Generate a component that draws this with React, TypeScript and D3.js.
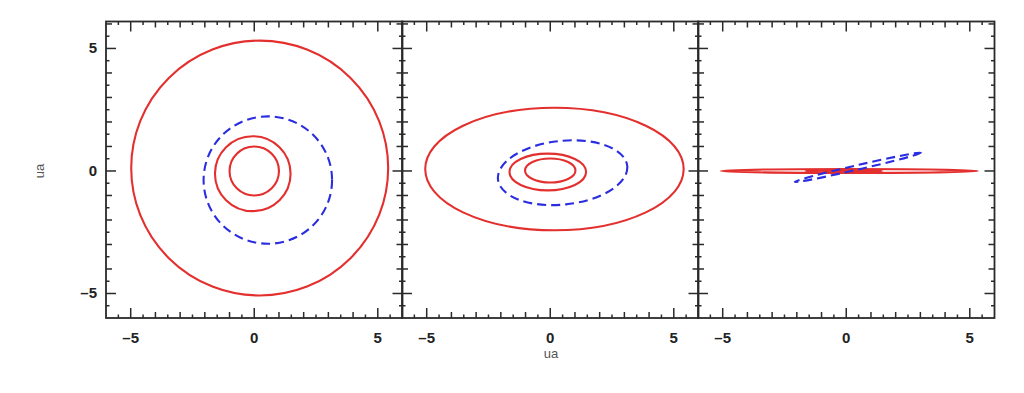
import * as d3 from "d3";

// panel boxes (pixels)
const PANEL_LEFTS = [106, 402, 698];
const PANEL_WIDTH = 296.5;
const TOP = 21.5;
const BOTTOM = 318;

const X_DOMAIN = [-6, 6];
const Y_DOMAIN = [-6, 6.1];
const MAJOR_TICKS = [-5, 0, 5];
const TICK_LABELS = ["–5", "0", "5"];
const AXIS_TITLE = "ua";

const RED = "#e3302f";
const BLUE = "#2b2de0";

// orbit ellipses, data units: [cx, cy, rx, ry, angle(deg)]
const ORBIT_SERIES = ["red", "red", "red", "blue"];
const PANEL_FACE = [
  [0, 0, 1.0, 1.0, 0],
  [-0.06, -0.11, 1.53, 1.53, 0],
  [0.22, 0.12, 5.2, 5.2, 0],
  [0.55, -0.37, 2.6, 2.6, 0],
];
const PANEL_TILT = [
  [0, 0.02, 1.02, 0.49, 0],
  [-0.1, -0.04, 1.55, 0.75, 0],
  [0.17, 0.08, 5.23, 2.5, 0],
  [0.5, -0.07, 2.63, 1.3, 6],
];
const PANEL_EDGE = [
  [0, 0, 1.0, 0.03, 0],
  [-0.1, 0, 1.55, 0.05, 0],
  [0.13, 0, 5.2, 0.08, 0],
  [0.47, 0.15, 2.62, 0.09, 13],
];
const PANELS = [PANEL_FACE, PANEL_TILT, PANEL_EDGE];

const HALF_TICKS = d3.range(-6, 6.01, 0.5);

const Panel = ({ left, orbits, showY }: { left: number; orbits: number[][]; showY: boolean }) => {
  const x = d3.scaleLinear().domain(X_DOMAIN).range([left, left + PANEL_WIDTH]);
  const y = d3.scaleLinear().domain(Y_DOMAIN).range([BOTTOM, TOP]);
  const len = (v: number) => (MAJOR_TICKS.includes(v) ? 10 : Number.isInteger(v) ? 6 : 3.5);
  const axisColor = "#2a2a2a";

  return (
    <g>
      <g clipPath={`url(#clip${left})`}>
        {orbits.map((o, i) => {
          const [cx, cy, rx, ry, ang] = o;
          const px = x(cx);
          const py = y(cy);
          const blue = ORBIT_SERIES[i] === "blue";
          return (
            <ellipse
              key={i}
              cx={px}
              cy={py}
              rx={x(rx) - x(0)}
              ry={y(0) - y(ry)}
              transform={`rotate(${-ang},${px},${py})`}
              fill="none"
              stroke={blue ? BLUE : RED}
              strokeWidth={2.1}
              strokeDasharray={blue ? "9 5" : undefined}
            />
          );
        })}
      </g>
      {HALF_TICKS.filter((v) => v > X_DOMAIN[0] && v < X_DOMAIN[1]).map((v) => (
        <g key={"x" + v} stroke={axisColor} strokeWidth={1.5}>
          <line x1={x(v)} x2={x(v)} y1={BOTTOM} y2={BOTTOM - len(v)} />
          <line x1={x(v)} x2={x(v)} y1={TOP} y2={TOP + len(v)} />
        </g>
      ))}
      {HALF_TICKS.filter((v) => v > Y_DOMAIN[0] && v < Y_DOMAIN[1]).map((v) => (
        <g key={"y" + v} stroke={axisColor} strokeWidth={1.5}>
          <line x1={x.range()[0]} x2={x.range()[0] + len(v)} y1={y(v)} y2={y(v)} />
          <line x1={x.range()[1]} x2={x.range()[1] - len(v)} y1={y(v)} y2={y(v)} />
        </g>
      ))}
      <rect
        x={left}
        y={TOP}
        width={PANEL_WIDTH}
        height={BOTTOM - TOP}
        fill="none"
        stroke={axisColor}
        strokeWidth={1.8}
      />
      {MAJOR_TICKS.map((v, i) => (
        <text
          key={"xl" + v}
          x={x(v)}
          y={343}
          textAnchor="middle"
          fontFamily="Liberation Sans, Arial, sans-serif"
          fontWeight="bold"
          fontSize={15}
          fill="#222"
        >
          {TICK_LABELS[i]}
        </text>
      ))}
      {showY &&
        MAJOR_TICKS.map((v, i) => (
          <text
            key={"yl" + v}
            x={97}
            y={y(v) + 5}
            textAnchor="end"
            fontFamily="Liberation Sans, Arial, sans-serif"
            fontWeight="bold"
            fontSize={15}
            fill="#222"
          >
            {TICK_LABELS[i]}
          </text>
        ))}
      <defs>
        <clipPath id={`clip${left}`}>
          <rect x={left} y={TOP} width={PANEL_WIDTH} height={BOTTOM - TOP} />
        </clipPath>
      </defs>
    </g>
  );
};

export default function App() {
  return (
    <svg
      width={1024}
      height={393}
      style={{ position: "absolute", left: 0, top: 0, background: "#fff" }}
    >
      {PANELS.map((orbits, i) => (
        <Panel key={i} left={PANEL_LEFTS[i]} orbits={orbits} showY={i === 0} />
      ))}
      <text
        x={551}
        y={358}
        textAnchor="middle"
        fontFamily="Liberation Sans, Arial, sans-serif"
        fontSize={13}
        fill="#555"
      >
        {AXIS_TITLE}
      </text>
      <text
        transform="translate(44,171) rotate(-90)"
        textAnchor="middle"
        fontFamily="Liberation Sans, Arial, sans-serif"
        fontSize={13}
        fill="#555"
      >
        {AXIS_TITLE}
      </text>
    </svg>
  );
}
